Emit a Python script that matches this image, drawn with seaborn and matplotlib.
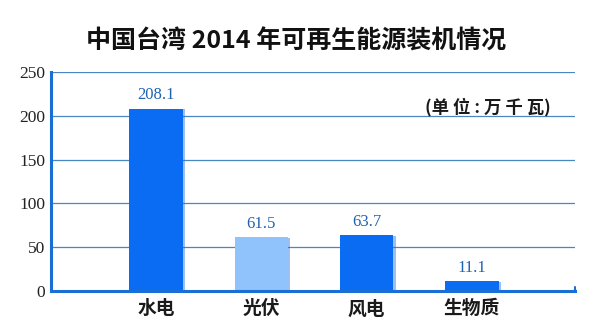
import matplotlib
matplotlib.use("Agg")
import matplotlib.pyplot as plt
import matplotlib.patheffects as pe
import seaborn as sns
import pandas as pd

categories = ["水电", "光伏", "风电", "生物质"]
capacity = [208.1, 61.5, 63.7, 11.1]
bar_colors = ["#0a6cf2", "#90c2fb", "#0a6cf2", "#0a6cf2"]
y_ticks = [0, 50, 100, 150, 200, 250]

sns.set_theme(style="white")
plt.rcParams["font.family"] = ["Noto Sans CJK SC", "DejaVu Sans"]

df = pd.DataFrame({"cat": categories, "val": capacity})

fig = plt.figure(figsize=(6.11, 3.32), dpi=100)
ax = fig.add_axes([0.0835, 0.1235, 0.8575, 0.6595])

sns.barplot(data=df, x="cat", y="val", hue="cat", palette=bar_colors,
            width=0.51, saturation=1, legend=False, ax=ax, zorder=3,
            linewidth=0)

# soft glow on the right edge of each bar
for patch in ax.patches:
    patch.set_path_effects([
        pe.SimplePatchShadow(offset=(1.5, -0.5), shadow_rgbFace="#2a6fe0", alpha=0.45),
        pe.Normal(),
    ])

ax.set_xlim(-1.0, 3.98)
ax.set_ylim(0, 250)
ax.set_yticks(y_ticks)
ax.set_yticklabels([str(t) for t in y_ticks], family="Liberation Serif",
                   fontsize=12.5, color="#222222")
ax.tick_params(axis="y", length=0, pad=4)
ax.tick_params(axis="x", length=0, pad=6)
ax.set_xticks(range(len(categories)))
ax.set_xticklabels(categories, fontsize=13.5, fontweight="bold", color="#1a1a1a")

for y in y_ticks[1:]:
    ax.axhline(y, color="#4a86c0", lw=0.9, zorder=1)

for s in ["top", "right"]:
    ax.spines[s].set_visible(False)
for s in ["left", "bottom"]:
    ax.spines[s].set_color("#1a6fd6")
    ax.spines[s].set_linewidth(2.2)
ax.spines["bottom"].set_zorder(4)
ax.plot([1, 1], [0, 0.02], transform=ax.transAxes, color="#1a6fd6",
        lw=1.5, clip_on=False)

ax.set_xlabel("")
ax.set_ylabel("")

for i, v in enumerate(capacity):
    ax.text(i, v + 6, f"{v}", ha="center", va="bottom",
            family="Liberation Serif", fontsize=12, color="#1f63b0")

ax.text(3.75, 210, "(单 位 : 万 千 瓦)", ha="right", va="center",
        fontsize=12.5, fontweight="bold", color="#1a1a1a")

fig.text(0.485, 0.875, "中国台湾 2014 年可再生能源装机情况", ha="center",
         va="center", fontsize=18, fontweight="bold", color="#111111")

fig.savefig("out.png", dpi=100)
